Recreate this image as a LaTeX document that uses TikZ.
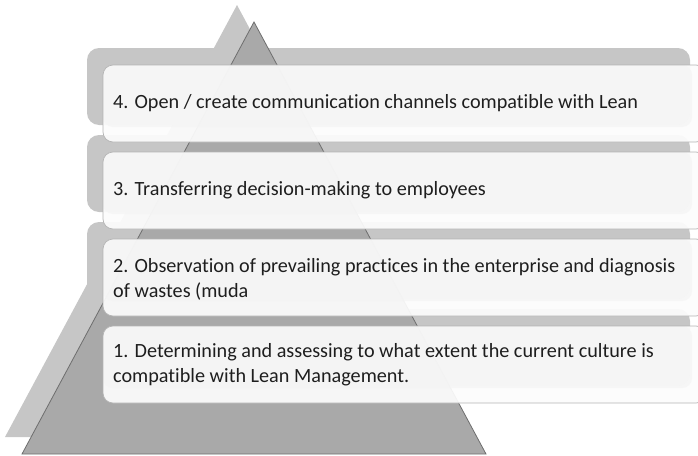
\documentclass[tikz,border=0pt]{standalone}
\usepackage{fontspec}
\setmainfont{Carlito}[Ligatures=NoCommon]
\definecolor{shadowgray}{HTML}{C6C6C6}
\definecolor{pyrfill}{HTML}{A9A9A9}
\definecolor{pyredge}{HTML}{6E6E6E}
\definecolor{boxinner}{HTML}{F3F3F3}
\definecolor{boxouter}{HTML}{FCFCFC}
\definecolor{boxedge}{HTML}{B4B4B4}
\definecolor{txt}{HTML}{1E1E1E}
\begin{document}
\begin{tikzpicture}[x=1pt,y=-1pt,
  shadowshape/.style={fill=shadowgray},
  pyramid/.style={fill=pyrfill,draw=pyredge,line width=0.8pt,line join=miter},
  boxbase/.style={fill=boxouter,fill opacity=0.93,rounded corners=10pt},
  boxface/.style={fill=boxinner,fill opacity=0.6,rounded corners=10pt},
  boxline/.style={draw=boxedge,line width=0.7pt,rounded corners=10pt},
  label/.style={anchor=west,inner sep=0pt,align=left,text=txt,
    font=\fontsize{20.2}{25}\selectfont}
]
\useasboundingbox (0,0) rectangle (698,455);
\begin{scope}
  \clip (0,0) rectangle (698,455);
  % drop shadow of the pyramid
  \fill[shadowshape] (237,5) -- (469,437) -- (5,437) -- cycle;
  % drop shadows of the four level boxes
  \foreach \t in {48,135,222,309}
    \fill[shadowshape,rounded corners=12pt] (87,\t) rectangle (690,\t+77);
  % the pyramid
  \filldraw[pyramid] (254,22) -- (486,454) -- (22,454) -- cycle;
  % translucent level boxes
  \foreach \t in {65,152,239,326} {
    \fill[boxbase] (103,\t) rectangle (706,\t+77);
    \fill[boxface] (103,\t) rectangle (692,\t+62);
    \draw[boxline] (103,\t) rectangle (706,\t+77);
  }
\end{scope}
% level texts
\node[label] (l4) at (113,103) {4. Open / create communication channels compatible with Lean};
\node[label] (l3) at (113,190) {3. Transferring decision-making to employees};
\node[label] (l2) at (113,279.5) {2. Observation of prevailing practices in the enterprise and diagnosis\\of wastes (muda};
\node[label] (l1) at (113,365) {1. Determining and assessing to what extent the current culture is\\compatible with Lean Management.};
\end{tikzpicture}
\end{document}
